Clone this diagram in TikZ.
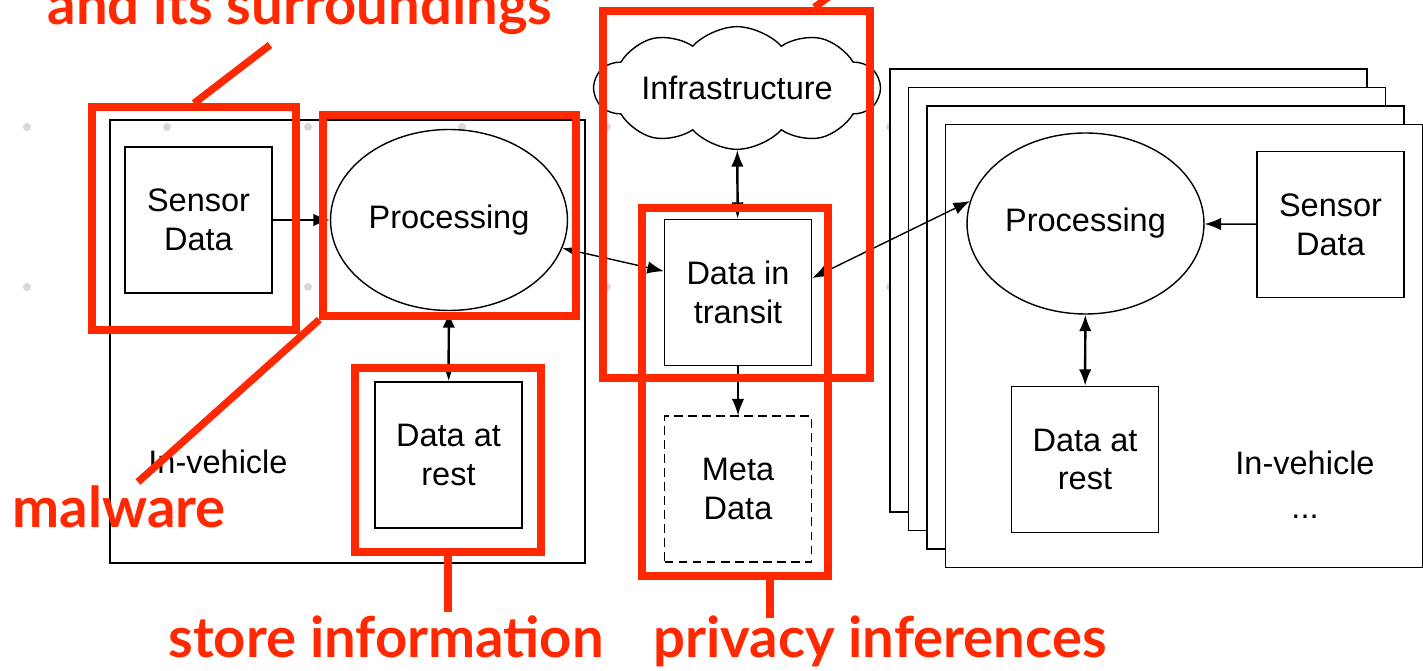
\documentclass[tikz,border=0pt]{standalone}
\usepackage{fontspec}
\setmainfont{Liberation Sans}
\newfontfamily\notefont{Lato}
\usetikzlibrary{shapes.geometric,shapes.symbols,arrows.meta}

\definecolor{alertred}{RGB}{255,40,0}
\definecolor{dotgray}{RGB}{216,216,216}

\begin{document}
\begin{tikzpicture}[x=0.02cm,y=-0.02cm,line width=0.8pt,
    >={Latex[length=3.3mm,width=2.5mm]},
    font=\fontsize{18.5}{22}\selectfont,
    box/.style={draw,fill=white,align=center,inner sep=0pt,
      minimum width=2.94cm,minimum height=2.92cm},
    proc/.style={draw,fill=white,ellipse,inner sep=0pt,
      minimum width=4.74cm,minimum height=3.62cm},
    heavy/.style={line width=1.4pt},
    hl/.style={draw=alertred,line width=4.2pt,inner sep=0pt},
    pointer/.style={alertred,line width=4.2pt},
    note/.style={text=alertred,inner sep=0pt,
      font=\notefont\bfseries\fontsize{32}{36}\selectfont}]
    \useasboundingbox (0,0) rectangle (1423,671);
    \clip (0,0) rectangle (1423,671);

    % grid dots in the background
    \foreach \x in {27,167,308,462,607,750,890}
      \foreach \y in {127,287}
        \fill[dotgray] (\x,\y) circle[radius=2.3pt];

    % vehicle on the left
    \draw (110,120) rectangle (585,563);
    \node[box] (sensorL) at (198.5,220) {Sensor\\Data};
    \node[proc] (procL) at (449,220) {Processing};
    \node[box] (restL) at (448.5,455) {Data at\\rest};
    \node (carL) at (218,462) {In-vehicle};

    % the other vehicles, stacked
    \foreach \i in {0,...,3}
      \draw[fill=white] ({890+18.5*\i},{69+18.5*\i}) rectangle +(477,443);
    \node[proc] (procR) at (1085.5,223.5) {Processing};
    \node[box] (sensorR) at (1330.5,224.5) {Sensor\\Data};
    \node[box] (restR) at (1085,459.5) {Data at\\rest};
    \node[align=center] (carR) at (1305,485) {In-vehicle\\[3pt]...};

    % outside the vehicles
    \node[cloud,draw,fill=white,cloud puffs=10,cloud puff arc=95,aspect=3,
      inner sep=0pt,minimum width=5.7cm,minimum height=1.94cm] (infra) at (737,88) {Infrastructure};
    \node[box] (transit) at (738,292.5) {Data in\\transit};
    \node[box,dash pattern=on 5pt off 3pt] (meta) at (738,489) {Meta\\Data};

    \draw[->] (sensorL) -- (procL);
    \draw[<->,heavy] (procL) -- (restL);
    \draw[<->] (procL.-14) -- (transit.164);
    \draw[<->] (transit.11) -- (procR.169);
    \draw[<->,heavy] (infra) -- (transit);
    \draw[->] (transit) -- (meta);
    \draw[->] (sensorR) -- (procR);
    \draw[<->,heavy] (procR) -- (restR);

    % threats
    \node[hl,minimum width=4.08cm,minimum height=4.46cm] (hlSensor) at (194,218.5) {};
    \node[hl,minimum width=5.06cm,minimum height=4.02cm] (hlProc) at (449.5,215.5) {};
    \node[hl,minimum width=3.72cm,minimum height=3.68cm] (hlRest) at (448,460) {};
    \node[hl,minimum width=5.34cm,minimum height=7.34cm] (hlInfra) at (736.5,194.5) {};
    \node[hl,minimum width=3.72cm,minimum height=7.36cm] (hlMeta) at (735,392) {};

    \node[note,anchor=base] (surr) at (300,25) {and its surroundings};
    \node[note,anchor=base west] (mal) at (12,528) {malware};
    \node[note,anchor=base] (store) at (386,658) {store information};
    \node[note,anchor=base] (priv) at (880,658) {privacy inferences};

    \coordinate (surrTip) at (270,45);
    \coordinate (malTip) at (138,482);
    \coordinate (privTip) at (770,618);
    \coordinate (infraTip) at (838,-10);
    \draw[pointer] (hlSensor.north) -- (surrTip);
    \draw[pointer] (hlProc.south west) -- (malTip);
    \draw[pointer] (hlRest.south) -- (hlRest.south |- 0,612);
    \draw[pointer] (privTip |- hlMeta.south) -- (privTip);
    \draw[pointer] (hlInfra.north) ++(78,0) -- (infraTip);
\end{tikzpicture}
\end{document}
